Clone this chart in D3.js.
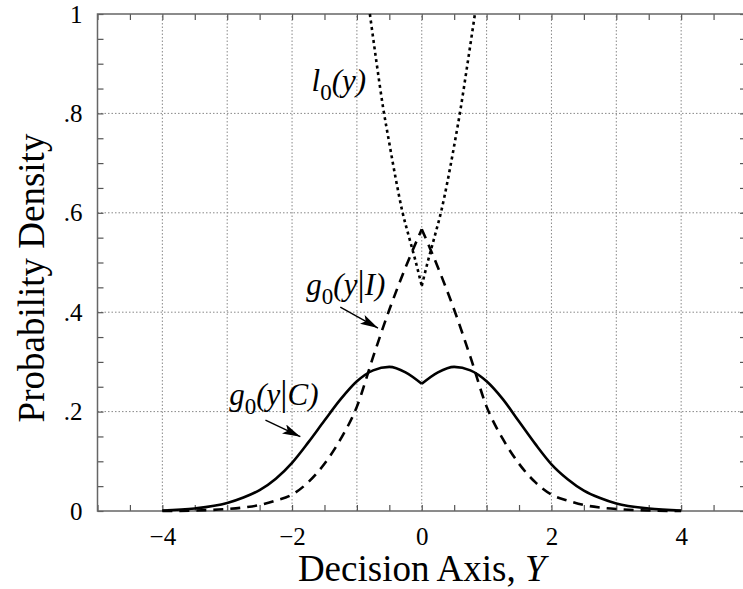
<!DOCTYPE html>
<html>
<head>
<meta charset="utf-8">
<script src="https://cdn.jsdelivr.net/npm/d3@7"></script>
<style>
  html, body { margin: 0; padding: 0; background: #fff; }
  svg text { font-family: "Liberation Serif", "Times New Roman", serif; fill: #000; }
</style>
</head>
<body>
<div id="chart"></div>
<script>
// values
const xs = [-4, -3.5, -3, -2.75, -2.5, -2.25, -2, -1.75, -1.5, -1.25, -1, -0.75, -0.5, -0.25, 0,
            0.25, 0.5, 0.75, 1, 1.25, 1.5, 1.75, 2, 2.25, 2.5, 2.75, 3, 3.5, 4];
const gC = [0.001, 0.005, 0.016, 0.027, 0.042, 0.065, 0.097, 0.138, 0.182, 0.225, 0.261, 0.283, 0.29, 0.279, 0.256,
            0.279, 0.29, 0.283, 0.261, 0.225, 0.18, 0.135, 0.094, 0.064, 0.041, 0.026, 0.015, 0.005, 0.001];
const gI = [0.0, 0.001, 0.004, 0.007, 0.012, 0.021, 0.033, 0.058, 0.095, 0.145, 0.21, 0.31, 0.405, 0.49, 0.567,
            0.49, 0.405, 0.31, 0.21, 0.145, 0.095, 0.058, 0.033, 0.021, 0.012, 0.007, 0.004, 0.001, 0.0];
const lx = [-0.8, -0.7, -0.6, -0.5, -0.4, -0.3, -0.2, -0.1, 0, 0.1, 0.2, 0.3, 0.4, 0.5, 0.6, 0.7, 0.82];
const l0 = [1.0, 0.905, 0.815, 0.74, 0.668, 0.603, 0.553, 0.505, 0.453, 0.505, 0.553, 0.603, 0.665, 0.735, 0.81, 0.895, 1.0];

const xGrid = [-4, -3, -2, -1, 0, 1, 2, 3, 4];
const yGrid = [0.2, 0.4, 0.6, 0.8];
const xLabels = [-4, -2, 0, 2, 4];
const yLabels = [0, 0.2, 0.4, 0.6, 0.8, 1];

const W = 743, H = 589;
const x = d3.scaleLinear().domain([-5, 5]).range([97.5, 746]);
const y = d3.scaleLinear().domain([0, 1]).range([511, 14]);

const svg = d3.select("#chart").append("svg")
    .attr("width", W)
    .attr("height", H);

svg.append("defs").append("marker")
    .attr("id", "arrow")
    .attr("viewBox", "0 0 18 10")
    .attr("refX", 18).attr("refY", 5)
    .attr("markerWidth", 18).attr("markerHeight", 10)
    .attr("markerUnits", "userSpaceOnUse")
    .attr("orient", "auto")
    .append("path")
    .attr("d", "M0,0 L18,5 L0,10 L4,5 Z")
    .attr("fill", "#000");

// grid
svg.append("g").selectAll("line").data(xGrid).join("line")
    .attr("x1", d => x(d)).attr("x2", d => x(d))
    .attr("y1", y(0)).attr("y2", y(1))
    .attr("stroke", "#888").attr("stroke-width", 1)
    .attr("stroke-dasharray", "1.5,2");
svg.append("g").selectAll("line").data(yGrid).join("line")
    .attr("x1", x(-5)).attr("x2", x(5))
    .attr("y1", d => y(d)).attr("y2", d => y(d))
    .attr("stroke", "#888").attr("stroke-width", 1)
    .attr("stroke-dasharray", "1.5,2");

// inward ticks on all four sides
function tickAxis(axis, tx, ty) {
    const g = svg.append("g")
        .attr("transform", `translate(${tx},${ty})`)
        .call(axis);
    g.select(".domain").remove();
    g.selectAll(".tick line").attr("stroke", "#555").attr("stroke-width", 1.2);
    g.selectAll("text").remove();
}
tickAxis(d3.axisBottom(x).tickValues(x.ticks(20)).tickSize(-6), 0, y(0));
tickAxis(d3.axisTop(x).tickValues(x.ticks(20)).tickSize(-6), 0, y(1));
tickAxis(d3.axisLeft(y).tickValues(y.ticks(20)).tickSize(-6), x(-5), 0);
tickAxis(d3.axisRight(y).tickValues(y.ticks(20)).tickSize(-6), x(5), 0);

// frame
svg.append("rect")
    .attr("x", x(-5)).attr("y", y(1))
    .attr("width", x(5) - x(-5)).attr("height", y(0) - y(1))
    .attr("fill", "none").attr("stroke", "#666").attr("stroke-width", 1.5);

// tick labels
const xl = svg.append("g")
    .attr("transform", `translate(0,${y(0)})`)
    .call(d3.axisBottom(x).tickValues(xLabels).tickSize(0).tickPadding(16));
xl.select(".domain").remove();
xl.selectAll("text").attr("font-size", 25).attr("font-family", "Liberation Serif");

const yl = svg.append("g")
    .attr("transform", `translate(${x(-5)},0)`)
    .call(d3.axisLeft(y).tickValues(yLabels).tickSize(0).tickPadding(15)
        .tickFormat(d => d === 0 ? "0" : d === 1 ? "1" : d3.format(".1f")(d).replace(/^0/, "")));
yl.select(".domain").remove();
yl.selectAll("text").attr("font-size", 25).attr("font-family", "Liberation Serif");

// axis titles
svg.append("text")
    .attr("x", (x(-5) + x(5)) / 2).attr("y", 581)
    .attr("text-anchor", "middle")
    .attr("font-size", 37)
    .call(t => {
        t.append("tspan").text("Decision Axis, ");
        t.append("tspan").attr("font-style", "italic").text("Y");
    });

svg.append("text")
    .attr("transform", "translate(44,278) rotate(-90)")
    .attr("text-anchor", "middle")
    .attr("font-size", 37)
    .text("Probability Density");

// curves, split at the cusp at y = 0
const line = d3.line()
    .x(d => x(d[0]))
    .y(d => y(d[1]))
    .curve(d3.curveMonotoneX);

function drawCurve(px, py, dash) {
    const pts = px.map((v, i) => [v, py[i]]);
    const halves = [pts.filter(d => d[0] <= 0), pts.filter(d => d[0] >= 0)];
    halves.forEach(h => {
        svg.append("path")
            .attr("d", line(h))
            .attr("fill", "none")
            .attr("stroke", "#000")
            .attr("stroke-width", 2.6)
            .attr("stroke-dasharray", dash);
    });
}
drawCurve(xs, gI, "10,7");
drawCurve(lx, l0, "3,3.5");
drawCurve(xs, gC, null);

// labels
function label(lx0, ly0, head, tail) {
    const t = svg.append("text")
        .attr("x", x(lx0)).attr("y", y(ly0))
        .attr("font-size", 31);
    t.append("tspan").attr("font-style", "italic").text(head);
    t.append("tspan").attr("font-size", 23).attr("dy", 9).text("0");
    t.append("tspan").attr("dy", -9).attr("font-style", "italic").text("(y");
    if (tail) {
        t.append("tspan").attr("font-size", 36).text("|");
        t.append("tspan").attr("font-style", "italic").text(tail + ")");
    } else {
        t.append("tspan").attr("font-style", "italic").text(")");
    }
}
label(-1.70, 0.845, "l", null);
label(-1.78, 0.435, "g", "I");
label(-2.97, 0.213, "g", "C");

function arrow(x1, y1, x2, y2) {
    svg.append("line")
        .attr("x1", x(x1)).attr("y1", y(y1))
        .attr("x2", x(x2)).attr("y2", y(y2))
        .attr("stroke", "#000").attr("stroke-width", 1.4)
        .attr("marker-end", "url(#arrow)");
}
arrow(-1.256, 0.41, -0.675, 0.368);
arrow(-2.41, 0.183, -1.872, 0.1495);
</script>
</body>
</html>
